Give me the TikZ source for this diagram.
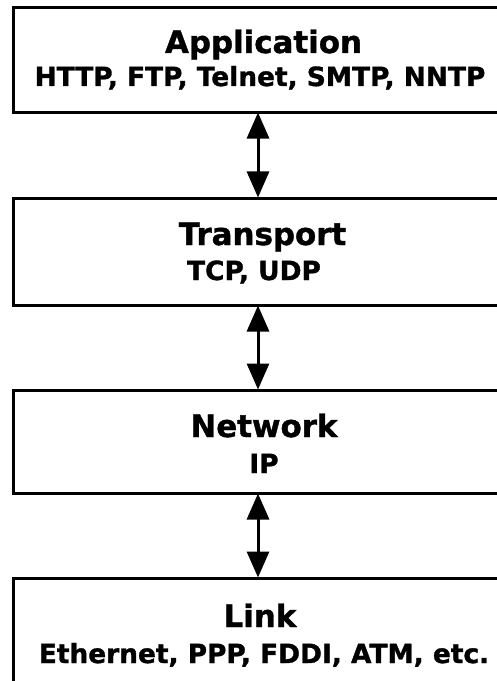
\documentclass[tikz,border=0pt]{standalone}
\usepackage{fontspec}
\setmainfont{DejaVu Sans}
\newfontfamily\heavyfont{DejaVu Sans Bold}[FakeBold=1.2]
\usetikzlibrary{arrows.meta}
\begin{document}
\begin{tikzpicture}[x=1bp,y=-1bp,
  layerbox/.style={draw=black, line width=3bp, minimum width=500bp, inner sep=0pt, fill=white},
  ttl/.style={anchor=base, inner sep=0pt, font=\heavyfont\fontsize{31}{36}\selectfont},
  sub/.style={anchor=base, inner sep=0pt, font=\heavyfont\fontsize{26.5}{30}\selectfont},
  dbl/.style={line width=3bp, {Triangle[length=26bp,width=22bp]}-{Triangle[length=26bp,width=22bp]}, shorten <=-1bp, shorten >=-1bp}]
\useasboundingbox (0,0) rectangle (497,681);
\clip (0,0) rectangle (497,681);
\fill[white] (0,0) rectangle (497,681);
\coordinate (ax) at (258,0);
% boxes
\node[layerbox, minimum height=104bp] (app) at (264,60) {};
\node[layerbox, minimum height=107bp] (tr) at (264,251.5) {};
\node[layerbox, minimum height=103bp] (nw) at (264,441.5) {};
\node[layerbox, minimum height=140bp] (lk) at (264,648) {};
% texts
\node[ttl] (appt) at (263.5,53) {Application};
\node[sub] (apps) at (260,86) {HTTP, FTP, Telnet, SMTP, NNTP};
\node[ttl] (trt) at (262.5,245) {Transport};
\node[sub] (trs) at (254,280) {TCP, UDP};
\node[ttl] (nwt) at (264,437) {Network};
\node[sub] (nws) at (264,473) {IP};
\node[ttl] (lkt) at (260,627) {Link};
\node[sub] (lks) at (264,663) {Ethernet, PPP, FDDI, ATM, etc.};
% connectors
\draw[dbl] (app.south -| ax) -- (tr.north -| ax);
\draw[dbl] (tr.south -| ax) -- (nw.north -| ax);
\draw[dbl] (nw.south -| ax) -- (lk.north -| ax);
\end{tikzpicture}
\end{document}
